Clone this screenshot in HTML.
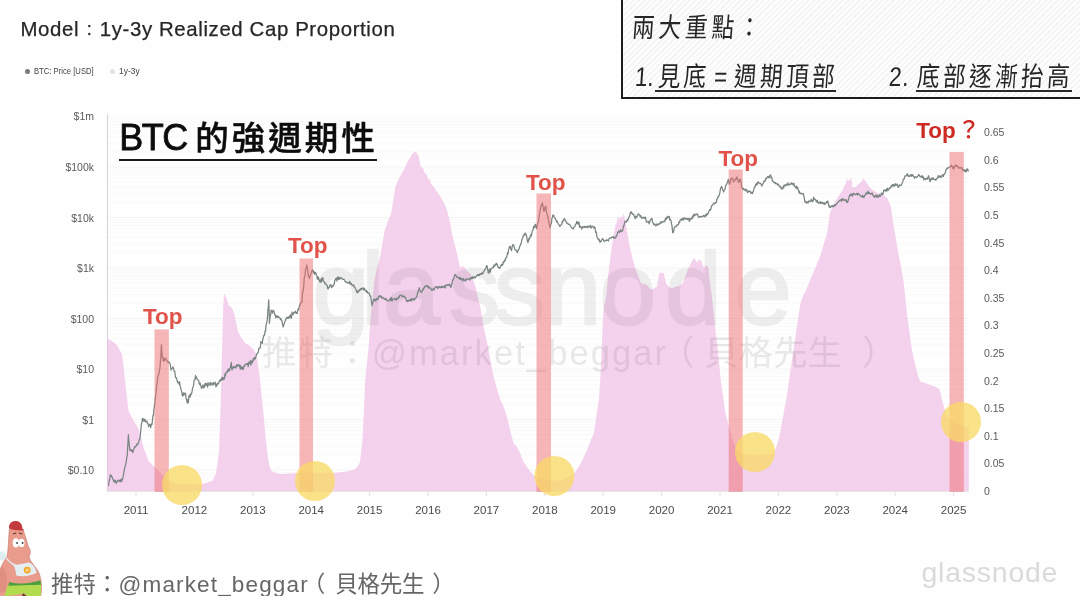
<!DOCTYPE html>
<html lang="zh-Hant"><head><meta charset="utf-8"><title>BTC 的強週期性</title>
<style>
html,body{margin:0;padding:0;}
body{width:1080px;height:596px;overflow:hidden;background:#fefefe;position:relative;font-family:"Liberation Sans","Noto Sans CJK TC",sans-serif;}
.abs{position:absolute;white-space:nowrap;}
.hdr{left:20.5px;top:15.5px;font-size:20.4px;color:#262626;line-height:26px;letter-spacing:0.62px;-webkit-text-stroke:0.25px #262626;}
.lg{top:65px;font-size:9.6px;color:#444;line-height:12px;transform:scaleX(0.8);transform-origin:left center;}
.dot{position:absolute;width:5px;height:5px;border-radius:50%;}
.yl{position:absolute;left:40px;width:54px;text-align:right;font-size:10.5px;color:#5a5a5a;line-height:14px;}
.yr{position:absolute;left:984px;font-size:10.5px;color:#5a5a5a;line-height:14px;}
.xl{position:absolute;top:503px;width:40px;text-align:center;font-size:11.5px;color:#4a4a4a;line-height:14px;}
.title{left:119.2px;top:116.4px;font-size:35px;line-height:44px;color:#0c0c0c;font-weight:500;-webkit-text-stroke:0.5px #0c0c0c;letter-spacing:0.4px;}
.uline{position:absolute;left:118.5px;top:158.7px;width:258.5px;height:2.2px;background:#1a1a1a;}
.top{font-weight:700;font-size:22.5px;line-height:24px;color:#e0524a;}
.note{position:absolute;left:621px;top:-4px;width:470px;height:102.5px;border:2.5px solid #1c1c1c;box-sizing:border-box;
 background:repeating-linear-gradient(135deg,#f5f5f5 0,#f5f5f5 2px,#fefefe 2px,#fefefe 4px);}
.hand{font-family:"Liberation Sans","Noto Sans CJK TC",sans-serif;font-weight:400;color:#262626;font-size:22.5px;line-height:28px;letter-spacing:4px;transform:skewX(-4deg) scaleY(1.2);transform-origin:left center;}
.ul2{position:absolute;top:89.5px;height:2px;background:#2a2a2a;}
.foot{left:51px;top:570.3px;font-size:22.5px;line-height:30px;color:#666;}
.gn{left:921.5px;top:555px;font-size:28.5px;line-height:34px;color:#dadada;letter-spacing:0.75px;}
</style></head><body>
<svg width="1080" height="596" viewBox="0 0 1080 596" style="position:absolute;left:0;top:0">
<line x1="108" x2="968" y1="490.1" y2="490.1" stroke="#000" stroke-opacity="0.022" stroke-width="1"/><line x1="108" x2="968" y1="485.2" y2="485.2" stroke="#000" stroke-opacity="0.022" stroke-width="1"/><line x1="108" x2="968" y1="481.2" y2="481.2" stroke="#000" stroke-opacity="0.022" stroke-width="1"/><line x1="108" x2="968" y1="477.8" y2="477.8" stroke="#000" stroke-opacity="0.022" stroke-width="1"/><line x1="108" x2="968" y1="474.9" y2="474.9" stroke="#000" stroke-opacity="0.022" stroke-width="1"/><line x1="108" x2="968" y1="472.3" y2="472.3" stroke="#000" stroke-opacity="0.022" stroke-width="1"/><line x1="108" x2="968" y1="470.0" y2="470.0" stroke="#000" stroke-opacity="0.042" stroke-width="1"/><line x1="108" x2="968" y1="454.8" y2="454.8" stroke="#000" stroke-opacity="0.022" stroke-width="1"/><line x1="108" x2="968" y1="445.9" y2="445.9" stroke="#000" stroke-opacity="0.022" stroke-width="1"/><line x1="108" x2="968" y1="439.6" y2="439.6" stroke="#000" stroke-opacity="0.022" stroke-width="1"/><line x1="108" x2="968" y1="434.7" y2="434.7" stroke="#000" stroke-opacity="0.022" stroke-width="1"/><line x1="108" x2="968" y1="430.7" y2="430.7" stroke="#000" stroke-opacity="0.022" stroke-width="1"/><line x1="108" x2="968" y1="427.3" y2="427.3" stroke="#000" stroke-opacity="0.022" stroke-width="1"/><line x1="108" x2="968" y1="424.4" y2="424.4" stroke="#000" stroke-opacity="0.022" stroke-width="1"/><line x1="108" x2="968" y1="421.8" y2="421.8" stroke="#000" stroke-opacity="0.022" stroke-width="1"/><line x1="108" x2="968" y1="419.5" y2="419.5" stroke="#000" stroke-opacity="0.042" stroke-width="1"/><line x1="108" x2="968" y1="404.3" y2="404.3" stroke="#000" stroke-opacity="0.022" stroke-width="1"/><line x1="108" x2="968" y1="395.4" y2="395.4" stroke="#000" stroke-opacity="0.022" stroke-width="1"/><line x1="108" x2="968" y1="389.1" y2="389.1" stroke="#000" stroke-opacity="0.022" stroke-width="1"/><line x1="108" x2="968" y1="384.2" y2="384.2" stroke="#000" stroke-opacity="0.022" stroke-width="1"/><line x1="108" x2="968" y1="380.2" y2="380.2" stroke="#000" stroke-opacity="0.022" stroke-width="1"/><line x1="108" x2="968" y1="376.8" y2="376.8" stroke="#000" stroke-opacity="0.022" stroke-width="1"/><line x1="108" x2="968" y1="373.9" y2="373.9" stroke="#000" stroke-opacity="0.022" stroke-width="1"/><line x1="108" x2="968" y1="371.3" y2="371.3" stroke="#000" stroke-opacity="0.022" stroke-width="1"/><line x1="108" x2="968" y1="369.0" y2="369.0" stroke="#000" stroke-opacity="0.042" stroke-width="1"/><line x1="108" x2="968" y1="353.8" y2="353.8" stroke="#000" stroke-opacity="0.022" stroke-width="1"/><line x1="108" x2="968" y1="344.9" y2="344.9" stroke="#000" stroke-opacity="0.022" stroke-width="1"/><line x1="108" x2="968" y1="338.6" y2="338.6" stroke="#000" stroke-opacity="0.022" stroke-width="1"/><line x1="108" x2="968" y1="333.7" y2="333.7" stroke="#000" stroke-opacity="0.022" stroke-width="1"/><line x1="108" x2="968" y1="329.7" y2="329.7" stroke="#000" stroke-opacity="0.022" stroke-width="1"/><line x1="108" x2="968" y1="326.3" y2="326.3" stroke="#000" stroke-opacity="0.022" stroke-width="1"/><line x1="108" x2="968" y1="323.4" y2="323.4" stroke="#000" stroke-opacity="0.022" stroke-width="1"/><line x1="108" x2="968" y1="320.8" y2="320.8" stroke="#000" stroke-opacity="0.022" stroke-width="1"/><line x1="108" x2="968" y1="318.5" y2="318.5" stroke="#000" stroke-opacity="0.042" stroke-width="1"/><line x1="108" x2="968" y1="303.3" y2="303.3" stroke="#000" stroke-opacity="0.022" stroke-width="1"/><line x1="108" x2="968" y1="294.4" y2="294.4" stroke="#000" stroke-opacity="0.022" stroke-width="1"/><line x1="108" x2="968" y1="288.1" y2="288.1" stroke="#000" stroke-opacity="0.022" stroke-width="1"/><line x1="108" x2="968" y1="283.2" y2="283.2" stroke="#000" stroke-opacity="0.022" stroke-width="1"/><line x1="108" x2="968" y1="279.2" y2="279.2" stroke="#000" stroke-opacity="0.022" stroke-width="1"/><line x1="108" x2="968" y1="275.8" y2="275.8" stroke="#000" stroke-opacity="0.022" stroke-width="1"/><line x1="108" x2="968" y1="272.9" y2="272.9" stroke="#000" stroke-opacity="0.022" stroke-width="1"/><line x1="108" x2="968" y1="270.3" y2="270.3" stroke="#000" stroke-opacity="0.022" stroke-width="1"/><line x1="108" x2="968" y1="268.0" y2="268.0" stroke="#000" stroke-opacity="0.042" stroke-width="1"/><line x1="108" x2="968" y1="252.8" y2="252.8" stroke="#000" stroke-opacity="0.022" stroke-width="1"/><line x1="108" x2="968" y1="243.9" y2="243.9" stroke="#000" stroke-opacity="0.022" stroke-width="1"/><line x1="108" x2="968" y1="237.6" y2="237.6" stroke="#000" stroke-opacity="0.022" stroke-width="1"/><line x1="108" x2="968" y1="232.7" y2="232.7" stroke="#000" stroke-opacity="0.022" stroke-width="1"/><line x1="108" x2="968" y1="228.7" y2="228.7" stroke="#000" stroke-opacity="0.022" stroke-width="1"/><line x1="108" x2="968" y1="225.3" y2="225.3" stroke="#000" stroke-opacity="0.022" stroke-width="1"/><line x1="108" x2="968" y1="222.4" y2="222.4" stroke="#000" stroke-opacity="0.022" stroke-width="1"/><line x1="108" x2="968" y1="219.8" y2="219.8" stroke="#000" stroke-opacity="0.022" stroke-width="1"/><line x1="108" x2="968" y1="217.5" y2="217.5" stroke="#000" stroke-opacity="0.042" stroke-width="1"/><line x1="108" x2="968" y1="202.3" y2="202.3" stroke="#000" stroke-opacity="0.022" stroke-width="1"/><line x1="108" x2="968" y1="193.4" y2="193.4" stroke="#000" stroke-opacity="0.022" stroke-width="1"/><line x1="108" x2="968" y1="187.1" y2="187.1" stroke="#000" stroke-opacity="0.022" stroke-width="1"/><line x1="108" x2="968" y1="182.2" y2="182.2" stroke="#000" stroke-opacity="0.022" stroke-width="1"/><line x1="108" x2="968" y1="178.2" y2="178.2" stroke="#000" stroke-opacity="0.022" stroke-width="1"/><line x1="108" x2="968" y1="174.8" y2="174.8" stroke="#000" stroke-opacity="0.022" stroke-width="1"/><line x1="108" x2="968" y1="171.9" y2="171.9" stroke="#000" stroke-opacity="0.022" stroke-width="1"/><line x1="108" x2="968" y1="169.3" y2="169.3" stroke="#000" stroke-opacity="0.022" stroke-width="1"/><line x1="108" x2="968" y1="167.0" y2="167.0" stroke="#000" stroke-opacity="0.042" stroke-width="1"/><line x1="108" x2="968" y1="151.8" y2="151.8" stroke="#000" stroke-opacity="0.022" stroke-width="1"/><line x1="108" x2="968" y1="142.9" y2="142.9" stroke="#000" stroke-opacity="0.022" stroke-width="1"/><line x1="108" x2="968" y1="136.6" y2="136.6" stroke="#000" stroke-opacity="0.022" stroke-width="1"/><line x1="108" x2="968" y1="131.7" y2="131.7" stroke="#000" stroke-opacity="0.022" stroke-width="1"/><line x1="108" x2="968" y1="127.7" y2="127.7" stroke="#000" stroke-opacity="0.022" stroke-width="1"/><line x1="108" x2="968" y1="124.3" y2="124.3" stroke="#000" stroke-opacity="0.022" stroke-width="1"/><line x1="108" x2="968" y1="121.4" y2="121.4" stroke="#000" stroke-opacity="0.022" stroke-width="1"/><line x1="108" x2="968" y1="118.8" y2="118.8" stroke="#000" stroke-opacity="0.022" stroke-width="1"/>
<line x1="107.5" x2="107.5" y1="114" y2="491" stroke="#d4d4d4" stroke-width="1"/>
<line x1="107" x2="969" y1="491.5" y2="491.5" stroke="#e6e6e6" stroke-width="1"/>
<line x1="136.0" x2="136.0" y1="492" y2="496" stroke="#e2e2e2" stroke-width="1"/>
<line x1="194.4" x2="194.4" y1="492" y2="496" stroke="#e2e2e2" stroke-width="1"/>
<line x1="252.8" x2="252.8" y1="492" y2="496" stroke="#e2e2e2" stroke-width="1"/>
<line x1="311.2" x2="311.2" y1="492" y2="496" stroke="#e2e2e2" stroke-width="1"/>
<line x1="369.6" x2="369.6" y1="492" y2="496" stroke="#e2e2e2" stroke-width="1"/>
<line x1="428.0" x2="428.0" y1="492" y2="496" stroke="#e2e2e2" stroke-width="1"/>
<line x1="486.4" x2="486.4" y1="492" y2="496" stroke="#e2e2e2" stroke-width="1"/>
<line x1="544.8" x2="544.8" y1="492" y2="496" stroke="#e2e2e2" stroke-width="1"/>
<line x1="603.2" x2="603.2" y1="492" y2="496" stroke="#e2e2e2" stroke-width="1"/>
<line x1="661.6" x2="661.6" y1="492" y2="496" stroke="#e2e2e2" stroke-width="1"/>
<line x1="720.0" x2="720.0" y1="492" y2="496" stroke="#e2e2e2" stroke-width="1"/>
<line x1="778.4" x2="778.4" y1="492" y2="496" stroke="#e2e2e2" stroke-width="1"/>
<line x1="836.8" x2="836.8" y1="492" y2="496" stroke="#e2e2e2" stroke-width="1"/>
<line x1="895.2" x2="895.2" y1="492" y2="496" stroke="#e2e2e2" stroke-width="1"/>
<line x1="953.6" x2="953.6" y1="492" y2="496" stroke="#e2e2e2" stroke-width="1"/>
<path d="M107,491 L107.0,338.6 L112.0,341.0 L116.8,345.0 L121.8,353.7 L123.5,365.0 L125.0,380.5 L127.0,398.0 L128.5,410.7 L133.5,420.8 L138.6,429.0 L143.6,447.6 L148.6,461.0 L153.7,466.0 L162.0,474.5 L167.0,481.0 L180.0,484.0 L200.6,484.5 L212.4,481.0 L215.7,474.5 L217.5,463.0 L219.0,451.0 L220.0,425.0 L220.8,400.6 L221.7,365.0 L222.5,333.5 L223.3,305.0 L224.0,293.5 L226.0,297.0 L229.0,306.0 L232.0,308.0 L234.5,314.7 L236.0,322.0 L238.0,332.0 L241.0,337.0 L245.0,343.0 L250.0,346.0 L254.0,350.0 L256.0,354.0 L257.4,360.5 L260.0,380.0 L262.7,406.0 L266.0,441.5 L268.0,458.0 L269.5,466.0 L271.5,471.0 L276.0,473.0 L281.0,474.0 L290.0,473.5 L301.0,472.8 L320.0,473.0 L335.0,472.8 L347.0,471.5 L355.0,469.5 L358.0,466.0 L360.0,462.0 L362.5,440.0 L364.0,410.0 L365.2,380.0 L366.8,365.0 L368.6,347.0 L369.8,330.0 L371.0,313.6 L372.7,297.0 L374.5,280.0 L377.0,268.0 L380.3,256.0 L382.5,243.0 L384.7,230.6 L388.0,221.0 L391.0,214.5 L393.3,200.0 L395.4,186.8 L399.0,178.0 L403.8,170.0 L407.0,163.0 L410.4,156.8 L413.0,153.0 L415.5,151.5 L417.0,153.5 L418.8,156.8 L420.5,166.8 L423.0,168.0 L424.0,172.0 L427.0,175.0 L428.0,179.0 L430.0,180.0 L431.0,184.0 L433.8,186.8 L437.0,192.0 L440.5,196.8 L444.0,203.0 L447.0,210.0 L449.5,220.0 L452.0,233.6 L454.5,244.0 L457.0,253.6 L459.0,263.0 L460.5,268.7 L462.0,266.0 L464.0,267.0 L467.0,271.0 L470.5,273.7 L473.0,280.0 L475.6,287.0 L478.0,298.0 L480.6,309.0 L483.6,326.7 L486.0,338.0 L488.6,350.0 L491.0,364.0 L493.6,376.8 L497.0,389.0 L500.3,400.0 L503.0,405.0 L507.0,417.0 L510.0,430.0 L513.6,443.6 L517.0,447.0 L520.3,453.6 L523.0,461.0 L527.0,467.0 L530.0,471.0 L533.7,475.4 L540.4,478.7 L550.0,480.4 L560.4,480.4 L567.0,478.0 L573.8,473.7 L578.7,467.0 L583.0,458.7 L587.0,450.3 L590.5,441.0 L593.8,433.6 L596.3,416.8 L598.9,400.0 L600.3,380.0 L601.5,355.0 L602.5,330.0 L603.5,309.0 L606.0,297.0 L608.8,270.5 L611.5,249.0 L613.5,236.0 L615.5,225.0 L617.0,222.0 L618.0,216.8 L619.5,219.0 L620.9,216.5 L622.0,218.0 L623.5,213.5 L625.0,219.5 L627.6,235.6 L630.0,247.7 L632.0,256.0 L634.3,265.0 L636.3,271.0 L638.3,276.0 L640.0,281.0 L642.3,284.0 L645.0,284.0 L647.7,285.5 L649.5,288.0 L651.7,289.5 L654.5,288.5 L657.0,286.6 L658.2,279.0 L659.3,273.5 L661.5,272.5 L663.8,273.5 L665.0,279.0 L666.5,284.0 L668.5,286.5 L670.5,288.0 L673.0,288.0 L676.0,286.6 L679.0,286.0 L682.6,284.0 L684.5,279.0 L686.6,273.0 L688.5,268.0 L690.7,263.8 L692.5,260.0 L694.7,258.0 L696.0,261.0 L697.4,262.5 L699.0,259.5 L701.4,261.0 L702.5,265.0 L704.0,267.9 L706.0,265.5 L708.0,266.5 L708.8,272.0 L709.5,278.6 L710.8,288.0 L712.0,297.4 L713.5,311.0 L714.8,324.0 L716.5,340.0 L717.8,350.0 L719.3,365.0 L720.8,380.7 L723.0,396.0 L725.0,411.0 L727.5,421.0 L730.0,430.0 L733.0,441.0 L736.0,449.0 L743.0,453.6 L753.4,455.0 L765.0,454.5 L773.4,453.6 L776.7,446.0 L779.0,438.0 L781.0,428.0 L783.0,417.0 L784.6,408.0 L787.0,395.0 L789.0,381.0 L791.0,367.0 L793.4,350.5 L796.0,333.4 L798.2,318.0 L800.5,303.0 L803.0,296.0 L807.0,288.0 L810.5,279.0 L814.0,271.0 L817.0,264.0 L820.6,255.0 L822.5,248.0 L824.7,241.0 L827.0,233.6 L830.0,212.7 L832.0,208.0 L835.0,202.0 L838.5,196.0 L842.0,191.0 L844.5,186.0 L847.5,179.0 L849.0,181.0 L851.0,177.5 L852.8,188.0 L855.5,187.0 L858.0,184.5 L861.0,182.5 L863.4,178.5 L865.5,181.0 L868.7,186.0 L872.0,189.5 L875.7,192.0 L880.0,194.5 L883.4,194.5 L887.4,198.5 L890.6,205.5 L892.8,220.0 L895.4,236.0 L898.0,252.0 L900.8,265.5 L903.5,281.5 L905.6,300.0 L907.0,315.0 L908.7,326.7 L910.3,339.0 L912.0,350.0 L914.5,362.0 L917.0,371.8 L918.7,378.0 L920.4,381.8 L925.0,383.0 L930.4,385.0 L935.0,386.5 L938.8,388.5 L940.5,393.0 L942.0,400.0 L944.5,409.0 L947.0,417.0 L952.0,421.0 L958.0,424.0 L964.0,426.0 L968.8,427.0 L968.8,491 Z" fill="#f0bfe4" fill-opacity="0.72"/>
<g opacity="0.088"><text x="312.5 361.5 383.0 449.0 494.0 544.5 599.5 665.0 735.0" y="323.5" font-family="'Liberation Sans',sans-serif" font-size="102" fill="#555" stroke="#555" stroke-width="2.5">glassnode</text></g>
<g opacity="0.125" font-family="'Liberation Sans','Noto Sans CJK TC',sans-serif" font-size="34.5" fill="#555"><text x="262" y="365" textLength="404" lengthAdjust="spacing">推特：@market_beggar</text><text x="660" y="365">（</text><text x="704" y="365" textLength="138" lengthAdjust="spacing">貝格先生</text><text x="862" y="365">）</text></g>
<path d="M108.6,485.2 L108.6,485.3 L109.0,481.8 L109.5,480.0 L110.0,477.3 L110.3,474.9 L110.4,475.6 L110.9,476.2 L111.4,475.3 L111.8,477.1 L112.3,477.1 L112.8,479.0 L113.2,479.7 L113.7,480.9 L113.8,481.2 L114.2,482.4 L114.6,480.1 L115.1,480.3 L115.6,480.3 L116.0,483.1 L116.5,483.1 L117.0,481.9 L117.4,481.3 L117.9,480.3 L118.4,480.5 L118.5,480.5 L118.8,480.1 L119.3,481.5 L119.8,480.3 L120.2,480.3 L120.7,481.8 L121.2,478.8 L121.6,480.6 L122.0,481.2 L122.1,479.9 L122.6,479.2 L123.0,477.1 L123.5,474.4 L124.0,471.8 L124.3,470.0 L124.4,469.1 L124.9,466.9 L125.4,465.5 L125.8,463.9 L126.3,461.1 L126.8,456.8 L127.2,455.9 L127.2,456.2 L127.7,447.1 L128.2,438.4 L128.4,434.7 L128.6,439.2 L129.1,442.7 L129.6,448.2 L129.6,447.7 L130.0,450.7 L130.5,449.6 L131.0,449.8 L131.4,451.2 L131.9,449.9 L132.4,451.1 L132.8,452.6 L133.1,451.7 L133.3,450.6 L133.8,449.5 L134.2,448.2 L134.7,446.6 L135.2,447.1 L135.6,446.5 L136.0,445.9 L136.1,446.4 L136.6,444.2 L137.1,444.8 L137.5,443.8 L138.0,444.0 L138.5,442.8 L138.9,441.2 L139.4,439.1 L139.5,439.6 L139.9,439.0 L140.3,435.6 L140.8,430.0 L141.3,425.0 L141.7,422.8 L142.2,421.6 L142.4,418.4 L142.7,420.5 L143.1,418.7 L143.6,420.5 L144.1,421.5 L144.5,419.2 L145.0,419.5 L145.5,421.2 L145.9,421.8 L145.9,421.7 L146.4,422.0 L146.9,421.0 L147.3,422.9 L147.8,423.7 L148.3,424.3 L148.7,426.6 L148.8,425.8 L149.2,424.4 L149.7,424.2 L150.1,424.5 L150.6,427.6 L151.1,425.6 L151.5,423.8 L151.8,424.4 L152.0,424.4 L152.5,420.1 L152.9,415.5 L153.4,415.5 L153.9,409.3 L154.1,409.2 L154.3,406.6 L154.8,403.3 L155.3,398.6 L155.7,394.5 L155.9,394.0 L156.2,390.7 L156.7,385.2 L157.1,383.5 L157.6,378.4 L157.6,378.6 L158.1,375.3 L158.5,374.8 L158.8,373.9 L159.0,374.0 L159.5,369.7 L159.9,369.0 L159.9,368.4 L160.4,361.9 L160.9,355.4 L161.3,345.9 L161.4,344.9 L161.8,350.9 L162.3,357.4 L162.3,357.5 L162.7,356.6 L163.2,360.8 L163.4,360.1 L163.7,358.7 L164.1,361.2 L164.6,360.2 L165.1,358.3 L165.2,358.7 L165.6,358.0 L166.0,358.7 L166.5,360.0 L167.0,360.9 L167.4,361.7 L167.5,361.9 L167.9,361.5 L168.4,362.6 L168.8,362.3 L169.3,362.2 L169.8,363.2 L169.9,363.2 L170.2,364.3 L170.7,367.3 L171.0,370.1 L171.2,368.5 L171.6,368.6 L172.1,368.8 L172.6,367.7 L172.8,366.9 L173.0,367.6 L173.5,367.8 L174.0,370.8 L174.4,371.3 L174.9,371.6 L175.1,373.9 L175.4,376.9 L175.8,377.8 L176.3,377.7 L176.8,379.1 L177.2,381.1 L177.5,382.1 L177.7,382.7 L178.2,381.9 L178.6,382.8 L179.1,384.3 L179.6,381.9 L179.8,384.2 L180.0,384.8 L180.5,387.7 L181.0,388.9 L181.4,390.9 L181.9,392.5 L182.1,393.3 L182.4,396.2 L182.8,394.5 L183.3,392.9 L183.8,395.4 L183.9,394.7 L184.2,394.6 L184.7,393.1 L185.2,393.1 L185.6,394.0 L185.6,393.4 L186.1,398.7 L186.6,399.4 L187.0,401.8 L187.4,403.2 L187.5,402.3 L188.0,399.4 L188.4,402.5 L188.9,396.0 L189.1,396.1 L189.4,397.2 L189.8,394.6 L190.3,397.0 L190.8,394.4 L191.2,393.2 L191.5,394.0 L191.7,393.1 L192.2,390.7 L192.6,388.0 L193.1,386.9 L193.2,386.5 L193.6,385.2 L194.0,381.1 L194.5,379.8 L195.0,379.6 L195.5,375.5 L195.6,376.8 L195.9,378.5 L196.4,376.8 L196.9,379.0 L197.3,379.2 L197.8,379.6 L197.9,380.2 L198.3,380.4 L198.7,380.5 L199.2,383.9 L199.7,384.5 L200.1,382.8 L200.2,383.3 L200.6,385.4 L201.1,386.6 L201.5,388.3 L202.0,387.5 L202.0,387.0 L202.5,386.5 L202.9,384.9 L203.4,387.8 L203.9,386.2 L204.3,387.4 L204.8,384.5 L205.3,383.3 L205.7,385.6 L206.1,384.6 L206.2,383.9 L206.7,383.7 L207.1,384.8 L207.6,387.1 L208.1,382.6 L208.5,384.6 L209.0,385.2 L209.5,383.9 L209.9,383.8 L210.4,382.4 L210.9,385.5 L211.3,383.3 L211.8,383.5 L211.9,384.2 L212.3,383.2 L212.7,384.3 L213.2,385.1 L213.7,382.7 L214.1,383.9 L214.6,383.8 L215.1,382.1 L215.5,384.3 L216.0,386.9 L216.5,384.4 L216.9,385.7 L217.4,383.2 L217.8,383.8 L217.9,383.5 L218.3,383.9 L218.8,382.7 L219.3,381.1 L219.7,381.6 L220.2,379.5 L220.7,380.9 L221.1,379.7 L221.3,380.2 L221.6,378.3 L222.1,377.4 L222.5,379.9 L223.0,377.5 L223.5,379.4 L223.6,378.1 L224.0,378.4 L224.4,378.9 L224.9,373.9 L225.4,375.9 L225.8,373.3 L226.3,372.5 L226.5,371.8 L226.8,371.7 L227.2,372.3 L227.7,371.1 L228.2,368.9 L228.6,371.0 L229.1,370.4 L229.4,370.8 L229.6,369.5 L230.0,368.3 L230.5,367.4 L231.0,364.1 L231.2,362.4 L231.4,363.6 L231.8,369.0 L231.9,369.9 L232.4,369.3 L232.8,367.1 L233.3,367.1 L233.8,367.8 L234.2,366.5 L234.7,367.1 L235.2,367.6 L235.3,366.9 L235.6,368.1 L236.1,367.1 L236.6,364.6 L237.0,366.2 L237.5,366.2 L238.0,365.3 L238.2,364.5 L238.4,365.7 L238.9,365.1 L239.4,366.9 L239.8,365.2 L240.3,369.1 L240.8,366.0 L241.2,367.6 L241.7,369.1 L242.2,367.0 L242.3,367.5 L242.6,367.5 L243.1,369.5 L243.6,367.8 L244.0,365.9 L244.5,366.6 L245.0,364.6 L245.4,364.4 L245.9,364.1 L246.4,364.4 L246.8,363.7 L247.0,364.3 L247.3,363.7 L247.8,363.5 L248.2,366.6 L248.7,362.5 L249.2,361.8 L249.6,363.7 L250.1,363.8 L250.6,360.5 L251.0,365.1 L251.5,362.2 L252.0,361.0 L252.2,362.4 L252.4,362.7 L252.9,360.6 L253.4,358.3 L253.9,360.2 L254.3,358.6 L254.8,357.5 L255.3,358.9 L255.7,357.4 L255.7,357.4 L256.2,355.8 L256.7,353.9 L257.1,353.8 L257.6,352.8 L258.1,352.6 L258.5,350.3 L258.6,349.8 L259.0,348.3 L259.5,347.9 L259.9,348.1 L260.4,347.1 L260.9,341.5 L261.3,342.4 L261.8,342.4 L262.1,342.2 L262.3,343.5 L262.7,339.6 L263.2,338.3 L263.7,335.3 L264.1,335.7 L264.5,335.1 L264.6,334.4 L265.1,331.0 L265.5,331.5 L266.0,325.1 L266.2,324.8 L266.5,323.1 L266.9,321.9 L267.4,318.5 L267.4,318.0 L267.9,309.6 L268.3,307.3 L268.7,299.8 L268.8,302.3 L269.3,317.1 L269.4,323.4 L269.7,320.2 L270.2,316.1 L270.3,314.5 L270.7,315.0 L271.1,310.1 L271.6,310.7 L272.1,311.1 L272.1,311.6 L272.5,313.2 L273.0,310.1 L273.5,311.6 L273.9,311.1 L274.4,313.1 L274.9,315.2 L275.0,314.9 L275.3,314.9 L275.8,318.0 L276.3,316.7 L276.7,316.0 L277.2,315.6 L277.7,317.5 L278.1,317.0 L278.6,316.7 L279.1,317.4 L279.1,317.3 L279.5,317.3 L280.0,318.2 L280.5,319.5 L280.9,318.6 L281.4,320.1 L281.9,321.2 L282.0,320.8 L282.4,323.5 L282.8,325.1 L283.2,327.0 L283.3,326.7 L283.8,324.9 L284.2,323.7 L284.7,322.0 L285.2,320.9 L285.5,319.6 L285.6,320.2 L286.1,318.7 L286.6,317.4 L287.0,317.8 L287.5,318.3 L288.0,317.1 L288.4,318.4 L288.9,318.0 L289.0,316.8 L289.4,316.5 L289.8,317.2 L290.3,314.7 L290.8,316.7 L291.2,318.3 L291.7,315.8 L292.2,312.0 L292.6,314.2 L293.1,314.6 L293.6,313.2 L293.7,312.7 L294.0,312.4 L294.5,312.3 L295.0,312.8 L295.4,311.2 L295.9,312.4 L296.4,313.4 L296.8,313.0 L297.2,313.6 L297.3,312.1 L297.8,310.3 L298.2,308.7 L298.7,309.8 L299.2,307.0 L299.5,305.6 L299.6,305.0 L300.1,305.2 L300.6,302.7 L301.0,302.6 L301.5,301.8 L301.9,302.2 L302.0,301.4 L302.4,293.8 L302.9,291.5 L303.4,289.3 L303.6,287.0 L303.8,284.9 L304.3,277.4 L304.8,277.2 L305.2,272.0 L305.4,271.6 L305.7,268.7 L306.2,267.8 L306.6,266.8 L306.8,264.9 L307.1,266.9 L307.6,270.1 L308.0,272.8 L308.3,275.8 L308.5,275.4 L309.0,277.4 L309.4,278.5 L309.4,278.1 L309.9,276.3 L310.4,275.4 L310.8,274.2 L310.9,274.0 L311.3,273.2 L311.8,270.6 L312.3,271.0 L312.4,269.8 L312.7,270.7 L313.2,270.5 L313.7,272.9 L314.1,271.9 L314.6,274.4 L315.1,272.7 L315.3,272.4 L315.5,272.5 L316.0,273.3 L316.5,275.2 L316.9,276.5 L317.4,279.1 L317.9,276.6 L318.2,279.2 L318.3,278.9 L318.8,278.1 L319.3,281.0 L319.7,280.4 L320.2,282.4 L320.5,280.7 L320.7,280.1 L321.1,278.8 L321.6,281.9 L322.1,278.9 L322.5,277.6 L322.9,277.8 L323.0,279.1 L323.5,281.3 L323.9,281.5 L324.4,281.9 L324.9,283.9 L325.3,283.1 L325.8,284.1 L325.8,284.0 L326.3,284.3 L326.7,285.3 L327.2,285.4 L327.6,288.1 L327.7,287.2 L328.1,289.1 L328.6,287.4 L329.1,287.5 L329.5,286.6 L329.9,285.0 L330.0,285.1 L330.5,285.2 L330.9,284.7 L331.4,287.5 L331.9,287.2 L332.3,285.7 L332.8,286.1 L333.3,286.1 L333.4,286.0 L333.7,284.9 L334.2,284.4 L334.7,280.9 L335.1,279.9 L335.6,278.9 L335.7,278.5 L336.1,279.0 L336.5,278.1 L337.0,281.1 L337.5,277.1 L337.5,277.5 L337.9,277.2 L338.4,279.3 L338.9,277.2 L339.3,277.4 L339.8,279.4 L340.3,277.9 L340.4,277.8 L340.8,278.2 L341.2,277.8 L341.7,277.9 L342.2,278.7 L342.6,279.6 L343.1,279.2 L343.3,279.2 L343.6,279.4 L344.0,279.2 L344.5,279.8 L345.0,281.1 L345.4,282.0 L345.9,281.5 L346.4,282.2 L346.8,282.6 L347.3,282.3 L347.4,282.3 L347.8,282.8 L348.2,282.7 L348.7,282.5 L349.2,283.5 L349.6,281.4 L350.1,283.9 L350.6,282.9 L351.0,284.0 L351.5,283.6 L352.0,285.3 L352.1,284.6 L352.4,285.5 L352.9,285.4 L353.4,285.8 L353.8,284.9 L354.3,287.2 L354.8,287.0 L355.2,288.3 L355.6,289.2 L355.7,289.0 L356.2,290.3 L356.6,292.1 L356.8,292.3 L357.1,291.8 L357.6,292.7 L358.0,290.5 L358.5,292.0 L359.0,290.7 L359.4,289.5 L359.7,290.4 L359.9,290.3 L360.4,289.8 L360.8,288.5 L361.3,289.1 L361.8,289.4 L362.2,288.2 L362.6,288.1 L362.7,288.0 L363.2,288.1 L363.6,289.8 L364.1,288.1 L364.6,288.9 L364.9,290.4 L365.0,290.5 L365.5,290.6 L366.0,291.5 L366.4,290.3 L366.9,292.5 L367.4,291.6 L367.8,292.9 L368.3,293.2 L368.4,293.0 L368.8,293.0 L369.2,293.1 L369.7,295.0 L370.2,296.4 L370.7,296.2 L370.8,296.7 L371.1,299.4 L371.6,302.7 L371.9,305.6 L372.1,304.5 L372.5,302.8 L373.0,302.8 L373.5,299.5 L373.7,300.2 L373.9,300.2 L374.4,299.3 L374.9,300.4 L375.3,299.7 L375.8,301.1 L376.3,298.3 L376.6,299.3 L376.7,298.7 L377.2,299.6 L377.7,299.5 L378.1,299.1 L378.6,296.2 L379.1,297.1 L379.5,296.2 L380.0,295.8 L380.1,295.5 L380.5,295.9 L380.9,297.1 L381.4,296.6 L381.9,298.2 L382.3,297.4 L382.8,297.4 L383.3,297.7 L383.7,298.6 L384.2,298.8 L384.2,299.1 L384.7,299.0 L385.1,299.7 L385.6,298.1 L386.1,299.0 L386.5,300.0 L387.0,300.5 L387.5,300.9 L387.9,301.0 L388.3,300.7 L388.4,300.8 L388.9,300.4 L389.3,300.0 L389.8,299.8 L390.3,298.4 L390.7,300.7 L391.2,299.9 L391.7,297.4 L392.1,301.1 L392.6,299.8 L393.0,299.5 L393.1,299.4 L393.5,299.3 L394.0,298.9 L394.5,299.3 L394.9,298.7 L395.4,298.9 L395.9,298.1 L396.3,300.3 L396.8,299.3 L397.3,298.5 L397.6,298.4 L397.7,298.7 L398.2,298.6 L398.7,296.7 L399.2,297.3 L399.6,295.6 L400.1,295.1 L400.6,295.1 L400.6,295.1 L401.0,295.0 L401.5,295.6 L402.0,296.9 L402.4,295.9 L402.9,295.7 L403.4,296.7 L403.8,296.5 L404.3,296.2 L404.6,296.7 L404.8,297.3 L405.2,297.4 L405.7,297.4 L406.2,300.4 L406.6,300.9 L407.0,301.7 L407.1,301.7 L407.6,300.3 L408.0,300.9 L408.5,300.1 L409.0,301.2 L409.4,300.4 L409.9,300.1 L410.4,300.5 L410.5,299.8 L410.8,299.0 L411.3,298.9 L411.8,301.0 L412.2,298.8 L412.7,299.4 L413.2,298.9 L413.6,298.8 L414.1,300.3 L414.6,299.1 L415.0,298.4 L415.2,298.8 L415.5,298.4 L416.0,297.9 L416.4,297.1 L416.9,296.0 L417.4,293.6 L417.8,292.0 L418.1,292.3 L418.3,291.1 L418.8,289.6 L419.2,288.1 L419.2,287.5 L419.7,289.7 L420.2,290.9 L420.6,291.0 L421.0,292.3 L421.1,291.9 L421.6,292.1 L422.0,291.7 L422.5,289.7 L423.0,289.0 L423.4,289.7 L423.9,288.0 L424.4,287.5 L424.8,286.2 L425.1,286.0 L425.3,286.1 L425.8,286.2 L426.2,286.6 L426.7,285.5 L427.2,285.7 L427.4,286.5 L427.6,286.9 L428.1,286.3 L428.6,288.0 L429.1,287.6 L429.5,287.4 L430.0,287.5 L430.3,288.7 L430.5,288.9 L430.9,288.9 L431.4,288.9 L431.9,290.5 L432.3,289.4 L432.7,289.5 L432.8,289.7 L433.3,288.7 L433.7,289.6 L434.2,289.9 L434.7,287.8 L435.1,287.2 L435.6,287.0 L435.6,287.2 L436.1,286.6 L436.5,287.2 L437.0,287.6 L437.5,286.7 L437.9,288.5 L438.4,287.7 L438.9,287.2 L439.3,286.4 L439.8,287.3 L440.3,286.9 L440.7,287.8 L441.2,287.0 L441.7,286.2 L442.1,287.6 L442.6,287.3 L442.6,286.7 L443.1,287.5 L443.5,286.9 L444.0,286.5 L444.5,285.6 L444.9,287.3 L445.4,287.9 L445.9,285.4 L446.3,285.0 L446.8,285.1 L447.3,285.3 L447.3,284.6 L447.7,285.2 L448.2,285.1 L448.7,284.6 L449.1,285.1 L449.6,284.0 L450.1,286.5 L450.5,285.8 L451.0,287.3 L451.4,285.5 L451.5,284.8 L451.9,284.0 L452.4,281.4 L452.9,279.3 L453.1,279.9 L453.3,279.2 L453.8,277.9 L454.3,276.6 L454.7,275.1 L454.9,274.3 L455.2,275.2 L455.7,274.9 L456.1,276.0 L456.6,276.6 L457.1,277.4 L457.2,277.4 L457.6,277.1 L458.0,277.4 L458.5,278.1 L459.0,277.5 L459.4,278.4 L459.9,279.4 L460.4,277.4 L460.8,278.4 L461.3,279.6 L461.8,278.8 L461.9,279.2 L462.2,279.1 L462.7,280.9 L463.2,278.4 L463.6,279.8 L464.1,279.9 L464.2,280.3 L464.6,280.1 L465.0,280.2 L465.5,281.2 L466.0,278.9 L466.4,279.6 L466.9,279.7 L467.4,279.0 L467.8,279.1 L468.3,278.6 L468.8,279.0 L468.9,278.8 L469.2,278.8 L469.7,280.1 L470.2,279.0 L470.6,277.9 L471.1,277.3 L471.6,278.7 L472.0,278.4 L472.5,276.8 L473.0,278.4 L473.4,277.4 L473.9,276.8 L474.4,277.8 L474.7,277.8 L474.8,277.2 L475.3,277.8 L475.8,276.7 L476.2,276.5 L476.7,275.9 L477.2,274.8 L477.6,275.2 L477.6,274.6 L478.1,275.4 L478.6,275.4 L479.0,274.3 L479.5,275.4 L480.0,273.9 L480.4,273.7 L480.9,274.3 L481.4,273.6 L481.7,273.7 L481.8,274.1 L482.3,272.5 L482.8,273.8 L483.2,272.4 L483.7,271.7 L484.2,271.0 L484.6,269.4 L485.1,269.5 L485.6,269.1 L485.8,268.7 L486.0,267.7 L486.5,265.7 L487.0,265.9 L487.0,265.9 L487.5,268.4 L487.9,270.5 L488.2,272.9 L488.4,272.5 L488.9,273.0 L489.3,269.4 L489.8,269.0 L490.3,272.1 L490.7,269.9 L491.2,268.9 L491.7,268.0 L492.1,267.9 L492.2,268.0 L492.6,267.7 L493.1,267.9 L493.5,266.4 L494.0,265.0 L494.5,266.3 L494.9,265.7 L495.4,264.2 L495.9,264.8 L496.3,263.1 L496.3,263.2 L496.8,264.3 L497.3,264.4 L497.7,266.3 L498.2,267.3 L498.7,267.7 L499.1,268.2 L499.2,268.4 L499.6,268.4 L500.1,267.4 L500.5,266.2 L501.0,265.2 L501.5,264.2 L501.9,265.7 L502.4,264.7 L502.8,264.0 L502.9,264.7 L503.3,261.6 L503.8,262.7 L504.3,261.2 L504.7,259.8 L505.2,260.6 L505.7,258.1 L506.1,257.7 L506.6,257.6 L506.8,256.4 L507.1,255.4 L507.5,252.9 L508.0,253.9 L508.5,250.0 L508.9,248.9 L509.4,247.1 L509.8,246.2 L509.9,246.3 L510.3,246.6 L510.8,249.1 L511.3,249.5 L511.5,250.7 L511.7,249.8 L512.2,246.4 L512.7,244.6 L512.7,244.9 L513.1,245.5 L513.6,244.9 L514.1,246.7 L514.5,248.0 L515.0,249.7 L515.5,250.2 L516.0,250.2 L516.4,250.4 L516.9,251.7 L517.4,252.8 L517.4,252.7 L517.8,251.6 L518.3,249.3 L518.8,249.6 L519.2,248.5 L519.7,246.2 L520.2,245.7 L520.3,245.4 L520.6,244.5 L521.1,243.3 L521.6,241.5 L522.0,239.2 L522.5,238.0 L523.0,237.4 L523.2,236.0 L523.4,235.5 L523.9,235.0 L524.4,235.4 L524.8,233.3 L525.3,233.6 L525.5,233.1 L525.8,234.3 L526.2,235.3 L526.7,236.7 L527.2,240.3 L527.6,241.3 L527.9,242.5 L528.1,242.4 L528.6,238.8 L529.0,240.1 L529.5,237.6 L530.0,238.0 L530.4,235.8 L530.8,235.5 L530.9,234.3 L531.4,236.2 L531.8,233.2 L532.3,231.1 L532.8,230.4 L533.1,229.4 L533.2,229.5 L533.7,226.3 L534.2,227.1 L534.6,227.6 L535.1,224.6 L535.5,224.4 L535.6,225.8 L536.0,225.6 L536.5,228.6 L536.6,228.7 L537.0,227.0 L537.4,223.9 L537.9,222.7 L538.4,221.8 L538.8,219.2 L539.0,217.9 L539.3,214.8 L539.8,212.3 L540.2,210.8 L540.7,207.2 L540.7,207.0 L541.2,205.6 L541.6,204.3 L542.1,205.5 L542.5,202.9 L542.6,203.8 L543.0,206.1 L543.5,209.7 L543.6,210.9 L544.0,209.3 L544.4,211.0 L544.9,207.5 L545.4,206.5 L545.4,206.4 L545.9,206.4 L546.3,211.6 L546.8,213.1 L547.1,214.4 L547.3,214.9 L547.7,216.4 L548.2,219.6 L548.7,220.3 L549.1,224.1 L549.6,225.3 L550.1,227.6 L550.1,227.8 L550.5,225.5 L551.0,224.1 L551.5,222.9 L551.9,218.5 L552.4,217.1 L552.9,215.5 L553.0,214.8 L553.3,215.3 L553.8,215.4 L554.3,217.9 L554.7,218.0 L555.2,218.3 L555.7,219.2 L556.1,220.6 L556.5,221.1 L556.6,222.0 L557.1,221.0 L557.5,222.3 L558.0,223.3 L558.5,224.3 L558.9,224.5 L559.4,225.7 L559.9,226.5 L560.0,226.3 L560.3,226.0 L560.8,225.3 L561.3,224.5 L561.7,224.1 L562.2,221.7 L562.7,222.5 L563.1,220.0 L563.6,220.3 L564.1,218.9 L564.1,218.8 L564.5,218.6 L565.0,219.8 L565.5,221.2 L565.9,221.1 L566.4,221.6 L566.9,223.7 L567.3,223.3 L567.8,223.3 L568.2,223.8 L568.3,224.1 L568.7,224.4 L569.2,224.3 L569.7,224.7 L570.1,225.1 L570.6,225.9 L571.1,227.1 L571.5,227.4 L572.0,228.1 L572.5,228.5 L572.8,228.7 L572.9,228.6 L573.4,228.9 L573.9,227.4 L574.4,226.5 L574.8,226.6 L575.3,225.1 L575.8,224.0 L576.2,223.9 L576.7,221.5 L577.2,223.7 L577.5,221.9 L577.6,222.1 L578.1,224.2 L578.6,222.7 L579.0,222.1 L579.5,227.3 L580.0,225.8 L580.4,226.3 L580.9,227.6 L581.0,227.6 L581.4,227.3 L581.8,229.1 L582.3,226.6 L582.8,226.9 L583.2,227.1 L583.7,227.6 L584.2,226.4 L584.6,227.3 L585.1,226.6 L585.6,226.8 L585.7,226.6 L586.0,227.7 L586.5,226.7 L587.0,226.6 L587.4,226.1 L587.9,227.6 L588.4,226.9 L588.8,226.4 L589.3,226.8 L589.8,225.9 L590.2,225.3 L590.7,227.7 L591.2,228.0 L591.5,227.1 L591.6,226.8 L592.1,226.1 L592.6,226.4 L593.0,226.6 L593.5,227.8 L594.0,228.0 L594.4,226.8 L594.9,227.8 L595.0,227.5 L595.4,230.7 L595.8,232.5 L596.3,232.0 L596.8,236.5 L596.8,236.0 L597.2,237.7 L597.7,238.7 L598.2,238.6 L598.6,240.2 L599.1,239.2 L599.6,241.1 L600.0,242.3 L600.3,242.1 L600.5,241.1 L601.0,241.6 L601.4,240.2 L601.9,239.8 L602.4,239.2 L602.6,238.7 L602.8,238.7 L603.3,239.6 L603.8,240.9 L604.3,241.5 L604.7,240.9 L605.2,240.7 L605.7,240.3 L606.1,240.5 L606.1,240.5 L606.6,239.9 L607.1,239.9 L607.5,240.4 L608.0,240.0 L608.5,241.0 L608.9,239.0 L609.4,238.2 L609.9,238.1 L610.2,238.2 L610.3,238.2 L610.8,238.2 L611.3,237.3 L611.7,237.9 L612.2,237.2 L612.7,237.3 L613.1,237.6 L613.6,236.5 L614.1,238.1 L614.5,237.8 L615.0,238.1 L615.5,237.9 L615.9,236.8 L616.0,237.3 L616.4,235.3 L616.9,235.4 L617.3,233.8 L617.8,232.2 L618.3,231.8 L618.4,231.8 L618.7,231.1 L619.2,232.6 L619.7,232.0 L620.1,230.9 L620.6,229.9 L621.1,230.9 L621.5,231.6 L622.0,231.0 L622.5,230.6 L622.5,230.8 L622.9,229.7 L623.4,226.0 L623.9,226.2 L624.3,224.0 L624.8,222.4 L624.8,221.8 L625.3,221.3 L625.7,221.6 L626.2,222.2 L626.7,221.0 L627.1,219.8 L627.6,220.6 L627.7,220.8 L628.1,219.2 L628.5,218.6 L629.0,217.0 L629.5,216.4 L629.9,214.7 L630.4,212.7 L630.9,213.5 L631.2,211.7 L631.3,212.0 L631.8,212.5 L632.3,213.9 L632.8,214.4 L633.2,214.3 L633.7,214.2 L634.2,216.4 L634.2,216.3 L634.6,216.6 L635.1,218.6 L635.6,216.1 L635.9,217.9 L636.0,217.7 L636.5,217.0 L637.0,217.1 L637.4,215.3 L637.9,215.2 L638.2,213.9 L638.4,214.0 L638.8,214.1 L639.3,215.0 L639.8,215.3 L640.2,216.8 L640.7,215.5 L641.2,217.1 L641.2,217.2 L641.6,218.2 L642.1,217.3 L642.6,217.9 L643.0,218.1 L643.5,217.6 L644.0,217.1 L644.4,218.4 L644.9,217.5 L645.2,217.5 L645.4,217.2 L645.8,219.2 L646.3,221.7 L646.4,222.1 L646.8,222.0 L647.2,222.1 L647.7,222.0 L648.2,221.2 L648.6,221.9 L649.1,223.8 L649.6,221.7 L649.9,221.6 L650.0,221.8 L650.5,219.7 L651.0,219.5 L651.1,218.9 L651.4,219.3 L651.9,218.2 L652.4,221.7 L652.8,222.4 L653.3,223.4 L653.8,224.9 L654.2,224.6 L654.6,224.1 L654.7,224.0 L655.2,224.6 L655.6,225.9 L656.1,225.6 L656.6,223.9 L657.0,225.1 L657.5,224.8 L658.0,224.4 L658.4,224.1 L658.7,224.7 L658.9,223.7 L659.4,223.4 L659.8,223.8 L660.3,223.4 L660.8,221.7 L661.2,221.7 L661.7,222.9 L662.2,221.9 L662.7,221.8 L662.8,221.9 L663.1,221.5 L663.6,221.4 L664.1,221.8 L664.5,220.6 L665.0,221.1 L665.5,218.2 L665.9,218.4 L666.4,219.4 L666.9,216.8 L667.3,216.9 L667.8,217.8 L668.0,216.9 L668.3,216.2 L668.7,217.0 L669.2,216.6 L669.7,220.0 L670.1,219.1 L670.6,219.8 L670.9,220.6 L671.1,221.2 L671.5,223.9 L672.0,225.9 L672.5,230.9 L672.9,232.8 L673.0,232.7 L673.4,232.4 L673.9,229.9 L674.3,228.0 L674.4,227.3 L674.8,226.9 L675.3,226.5 L675.7,226.4 L676.2,226.7 L676.7,226.2 L677.1,224.7 L677.6,224.8 L678.0,225.0 L678.1,224.8 L678.5,224.2 L679.0,221.8 L679.5,222.8 L679.9,220.9 L680.4,219.8 L680.9,219.8 L680.9,219.9 L681.3,219.0 L681.8,220.3 L682.3,218.3 L682.7,218.7 L683.2,220.0 L683.7,218.2 L683.8,218.4 L684.1,218.8 L684.6,217.7 L685.1,219.1 L685.5,218.8 L686.0,218.4 L686.5,219.0 L686.9,218.6 L687.4,219.4 L687.9,218.4 L688.3,219.0 L688.8,218.9 L689.3,221.4 L689.7,218.4 L690.2,219.2 L690.7,219.9 L690.8,219.3 L691.2,218.9 L691.6,218.1 L692.1,217.1 L692.6,218.4 L693.0,215.7 L693.5,216.7 L694.0,214.0 L694.4,215.7 L694.9,214.6 L695.4,214.7 L695.5,214.4 L695.8,215.1 L696.3,214.0 L696.8,214.2 L697.2,213.9 L697.7,214.7 L698.2,216.2 L698.6,217.3 L699.1,216.7 L699.6,216.9 L700.0,217.1 L700.5,216.5 L700.7,216.9 L701.0,216.7 L701.4,216.9 L701.9,216.4 L702.4,216.6 L702.8,216.2 L703.3,215.6 L703.8,215.4 L704.2,216.7 L704.7,217.0 L705.2,215.3 L705.4,215.8 L705.6,215.5 L706.1,214.1 L706.6,215.8 L707.0,214.1 L707.5,213.3 L708.0,214.0 L708.4,212.6 L708.9,211.1 L709.4,210.7 L709.5,210.9 L709.8,209.3 L710.3,210.0 L710.8,209.6 L711.2,207.0 L711.7,205.7 L712.2,205.5 L712.6,205.4 L713.0,204.0 L713.1,203.6 L713.6,203.1 L714.0,203.2 L714.5,203.9 L715.0,203.1 L715.3,203.2 L715.4,202.7 L715.9,202.3 L716.4,202.5 L716.8,199.7 L717.3,198.6 L717.8,198.0 L718.2,196.2 L718.7,196.5 L719.2,195.1 L719.4,194.5 L719.6,193.7 L720.1,191.1 L720.6,188.2 L721.1,187.7 L721.2,187.1 L721.5,186.4 L722.0,187.5 L722.5,189.1 L722.9,190.3 L723.4,191.0 L723.5,192.0 L723.9,191.2 L724.3,190.1 L724.8,189.8 L725.3,187.4 L725.7,185.5 L726.2,185.1 L726.7,184.2 L727.0,183.6 L727.1,183.2 L727.6,181.3 L728.1,180.6 L728.2,179.3 L728.5,179.8 L729.0,183.0 L729.3,184.0 L729.5,184.2 L729.9,183.2 L730.4,182.1 L730.9,179.5 L731.3,178.3 L731.7,178.2 L731.8,178.9 L732.3,178.2 L732.7,178.9 L733.2,180.7 L733.7,181.9 L734.0,181.3 L734.1,181.4 L734.6,180.9 L735.1,179.2 L735.5,179.0 L736.0,179.6 L736.5,177.0 L736.6,176.8 L736.9,178.6 L737.4,178.0 L737.9,181.1 L738.3,181.8 L738.7,182.2 L738.8,182.4 L739.3,181.7 L739.7,179.4 L740.2,179.2 L740.4,179.3 L740.7,180.1 L741.1,182.6 L741.6,186.6 L742.1,187.9 L742.2,188.2 L742.5,188.7 L743.0,189.4 L743.5,188.3 L743.9,189.6 L744.4,189.7 L744.9,189.8 L745.1,189.4 L745.3,190.8 L745.8,189.5 L746.3,189.2 L746.7,190.6 L747.2,191.7 L747.4,191.3 L747.7,192.6 L748.1,191.5 L748.6,190.8 L749.1,191.8 L749.6,191.5 L750.0,191.2 L750.5,191.7 L751.0,193.3 L751.4,192.4 L751.9,193.0 L752.1,193.4 L752.4,193.6 L752.8,192.0 L753.3,191.7 L753.8,189.4 L754.2,187.6 L754.7,187.6 L755.0,186.0 L755.2,186.7 L755.6,184.5 L756.1,184.7 L756.6,183.3 L757.0,185.2 L757.5,182.7 L758.0,181.7 L758.4,182.0 L758.5,182.6 L758.9,183.1 L759.4,183.1 L759.8,183.8 L760.3,183.2 L760.8,183.6 L761.2,184.8 L761.7,186.0 L762.0,185.5 L762.2,185.1 L762.6,184.9 L763.1,183.3 L763.6,182.9 L764.0,181.0 L764.5,180.7 L765.0,181.3 L765.4,179.9 L765.9,178.2 L766.4,179.0 L766.7,178.2 L766.8,178.0 L767.3,176.9 L767.8,176.3 L768.2,176.6 L768.7,177.9 L769.2,177.5 L769.6,175.9 L770.1,175.6 L770.2,175.6 L770.6,174.8 L771.0,177.9 L771.5,177.1 L772.0,178.2 L772.4,181.2 L772.9,181.4 L773.4,181.4 L773.7,182.2 L773.8,182.4 L774.3,182.6 L774.8,182.3 L775.2,183.6 L775.7,182.7 L776.2,183.8 L776.6,183.6 L776.6,183.7 L777.1,183.7 L777.6,184.9 L778.0,184.7 L778.5,184.1 L779.0,185.9 L779.5,186.5 L779.9,186.2 L780.4,187.6 L780.9,186.9 L781.3,189.0 L781.8,188.5 L781.9,188.8 L782.3,188.8 L782.7,188.7 L783.2,186.1 L783.7,187.9 L784.1,185.2 L784.6,185.7 L785.1,185.0 L785.4,185.5 L785.5,185.8 L786.0,184.7 L786.5,184.2 L786.9,185.2 L787.4,185.1 L787.9,182.8 L788.3,184.6 L788.8,185.0 L789.3,185.1 L789.7,184.1 L790.2,184.1 L790.7,184.1 L791.1,182.8 L791.6,184.2 L792.1,183.7 L792.4,183.8 L792.5,183.4 L793.0,184.8 L793.5,183.7 L793.9,183.3 L794.4,186.4 L794.9,186.5 L795.3,186.8 L795.8,187.9 L796.3,186.2 L796.7,188.4 L797.2,187.0 L797.7,187.7 L797.7,187.3 L798.1,190.1 L798.6,190.2 L799.1,192.8 L799.5,191.6 L800.0,193.4 L800.0,193.6 L800.5,193.6 L800.9,193.5 L801.4,193.1 L801.9,193.9 L802.3,193.6 L802.8,194.1 L803.3,193.7 L803.5,193.8 L803.7,195.7 L804.2,197.1 L804.7,201.1 L805.1,202.0 L805.3,202.3 L805.6,201.3 L806.1,202.1 L806.5,203.1 L807.0,201.7 L807.5,202.6 L808.0,203.1 L808.4,202.2 L808.9,200.8 L809.4,201.1 L809.8,201.3 L809.9,201.2 L810.3,201.5 L810.8,201.6 L811.2,199.4 L811.7,200.1 L812.2,200.9 L812.6,201.6 L813.1,200.7 L813.6,197.2 L814.0,199.8 L814.5,198.8 L814.6,198.8 L815.0,199.0 L815.4,199.8 L815.9,200.4 L816.4,201.8 L816.8,202.0 L817.3,200.2 L817.8,202.6 L818.1,202.5 L818.2,202.3 L818.7,203.4 L819.2,202.8 L819.6,202.4 L820.1,201.7 L820.6,203.6 L821.0,202.1 L821.5,202.3 L822.0,203.3 L822.4,202.3 L822.9,203.5 L823.4,203.5 L823.8,202.8 L824.3,204.5 L824.8,202.9 L825.1,202.9 L825.2,203.2 L825.7,203.8 L826.2,202.8 L826.6,201.6 L827.1,202.5 L827.6,201.0 L828.0,201.8 L828.0,202.1 L828.5,205.1 L829.0,204.9 L829.2,207.2 L829.4,207.0 L829.9,206.4 L830.4,207.6 L830.8,206.1 L831.3,206.5 L831.8,206.0 L832.2,206.5 L832.7,205.4 L833.2,206.7 L833.6,206.6 L833.9,206.1 L834.1,206.5 L834.6,204.6 L835.0,205.5 L835.5,205.3 L836.0,204.7 L836.4,203.8 L836.9,204.0 L837.4,202.7 L837.9,202.4 L838.3,201.7 L838.6,201.2 L838.8,201.5 L839.3,200.8 L839.7,200.9 L840.2,200.1 L840.7,199.7 L841.1,199.4 L841.6,201.3 L842.1,199.5 L842.5,199.1 L842.6,198.8 L843.0,198.6 L843.5,200.3 L843.9,200.1 L844.4,200.0 L844.9,200.3 L845.3,199.4 L845.8,200.9 L846.3,200.0 L846.7,202.3 L847.2,202.5 L847.7,201.1 L847.9,201.8 L848.1,200.6 L848.6,198.8 L849.1,197.4 L849.5,195.5 L849.6,195.3 L850.0,195.8 L850.5,194.3 L850.9,195.3 L851.4,193.9 L851.9,194.5 L852.3,196.1 L852.8,195.4 L853.3,193.2 L853.7,194.1 L854.2,193.9 L854.3,193.8 L854.7,193.8 L855.1,194.3 L855.6,194.7 L856.1,194.3 L856.5,194.4 L857.0,193.4 L857.5,194.8 L857.9,193.4 L858.4,193.6 L858.9,193.8 L859.3,194.7 L859.8,195.5 L860.2,195.7 L860.3,195.7 L860.7,196.0 L861.2,196.7 L861.7,196.3 L862.1,197.0 L862.6,195.2 L863.1,196.4 L863.5,197.1 L863.7,197.0 L864.0,197.7 L864.5,195.6 L864.9,195.2 L865.4,195.0 L865.9,193.7 L866.0,193.0 L866.4,194.1 L866.8,192.8 L867.3,193.3 L867.8,191.1 L868.2,193.4 L868.7,193.6 L869.2,192.3 L869.6,193.5 L870.1,193.5 L870.6,194.0 L871.0,194.2 L871.5,193.2 L871.8,193.9 L872.0,193.6 L872.4,193.1 L872.9,195.4 L873.4,195.6 L873.8,196.8 L874.2,196.5 L874.3,196.2 L874.8,197.2 L875.2,196.0 L875.7,195.4 L876.2,195.1 L876.6,197.1 L877.1,195.3 L877.6,196.8 L878.0,196.8 L878.5,197.2 L879.0,195.1 L879.4,194.7 L879.9,196.3 L880.4,196.2 L880.6,195.9 L880.8,195.7 L881.3,193.1 L881.8,193.4 L882.2,194.1 L882.7,194.6 L883.2,193.0 L883.6,190.7 L884.1,189.9 L884.6,190.6 L884.7,190.3 L885.0,190.5 L885.5,190.4 L886.0,191.5 L886.4,188.9 L886.9,190.4 L887.4,188.4 L887.8,190.6 L888.3,190.0 L888.8,188.6 L889.2,188.8 L889.4,188.5 L889.7,187.7 L890.2,187.7 L890.6,188.2 L891.1,186.2 L891.6,185.5 L892.0,186.7 L892.3,185.5 L892.5,184.7 L893.0,184.9 L893.4,184.5 L893.9,186.6 L894.4,185.5 L894.8,185.0 L895.3,183.6 L895.8,185.7 L896.3,184.9 L896.7,185.0 L897.0,184.0 L897.2,184.6 L897.7,185.0 L898.1,187.5 L898.6,187.2 L898.7,187.1 L899.1,186.4 L899.5,184.8 L900.0,185.1 L900.5,185.4 L900.9,185.6 L901.4,184.8 L901.9,183.9 L902.2,183.1 L902.3,182.8 L902.8,181.7 L903.3,179.1 L903.7,179.2 L904.2,179.1 L904.5,177.5 L904.7,176.7 L905.1,175.8 L905.6,175.9 L906.1,175.9 L906.5,175.9 L906.9,174.1 L907.0,174.5 L907.5,173.8 L907.9,175.6 L908.4,176.4 L908.9,175.5 L909.3,175.9 L909.8,176.4 L909.8,176.3 L910.3,175.7 L910.7,174.7 L911.2,176.4 L911.7,174.6 L912.1,175.9 L912.6,174.6 L912.7,174.8 L913.1,175.4 L913.5,176.2 L914.0,176.5 L914.5,178.2 L914.5,178.2 L914.9,177.2 L915.4,176.8 L915.9,177.1 L916.3,177.4 L916.8,177.3 L917.3,176.8 L917.7,176.2 L918.2,175.7 L918.6,175.5 L918.7,174.5 L919.1,175.3 L919.6,175.2 L920.1,176.7 L920.5,176.8 L921.0,176.6 L921.5,176.3 L921.9,177.6 L922.4,175.6 L922.9,177.3 L923.2,177.1 L923.3,176.8 L923.8,179.8 L924.3,178.3 L924.8,178.6 L925.2,179.2 L925.6,179.7 L925.7,179.3 L926.2,178.7 L926.6,178.2 L927.1,179.3 L927.6,177.7 L928.0,178.1 L928.5,175.8 L928.5,175.6 L929.0,177.3 L929.4,179.5 L929.9,181.4 L929.9,181.3 L930.4,181.3 L930.8,178.8 L931.3,178.4 L931.8,179.4 L932.2,177.8 L932.7,179.4 L933.2,177.8 L933.2,178.3 L933.6,178.7 L934.1,179.5 L934.6,179.7 L935.0,179.5 L935.5,180.1 L935.5,179.3 L936.0,180.1 L936.4,179.1 L936.9,178.4 L937.4,178.2 L937.8,176.9 L938.3,175.7 L938.8,177.3 L939.0,176.4 L939.2,176.3 L939.7,176.5 L940.2,175.8 L940.6,177.3 L941.1,177.4 L941.6,177.2 L941.9,175.6 L942.0,175.3 L942.5,175.0 L943.0,174.7 L943.4,176.5 L943.9,174.4 L944.4,174.2 L944.8,173.3 L944.8,173.7 L945.3,172.9 L945.8,170.3 L946.2,169.3 L946.6,168.8 L946.7,168.8 L947.2,168.0 L947.6,168.7 L948.1,167.9 L948.6,167.6 L948.9,167.4 L949.0,167.1 L949.5,167.1 L950.0,166.8 L950.4,166.4 L950.9,166.4 L951.3,165.7 L951.4,164.9 L951.8,166.2 L952.3,167.0 L952.8,166.6 L953.0,168.5 L953.2,167.3 L953.7,169.1 L954.2,166.7 L954.7,166.5 L954.8,166.8 L955.1,165.2 L955.6,165.1 L956.1,165.3 L956.5,166.5 L956.8,165.5 L957.0,166.2 L957.5,166.0 L957.9,166.3 L958.4,168.1 L958.9,167.7 L958.9,167.8 L959.3,168.0 L959.8,167.7 L960.3,167.5 L960.7,168.1 L961.2,167.9 L961.2,168.2 L961.7,167.6 L962.1,168.1 L962.6,170.3 L962.9,170.8 L963.1,170.3 L963.5,170.1 L964.0,169.6 L964.5,169.6 L964.7,169.8 L964.9,171.3 L965.3,171.9 L965.4,171.5 L965.9,170.5 L966.3,171.7 L966.8,169.2 L967.0,170.3 L967.3,168.8 L967.7,169.2 L968.2,171.1 L968.2,170.6" fill="none" stroke="#7a8583" stroke-width="1.25" stroke-linejoin="round"/>
<rect x="154.5" y="329.5" width="14.3" height="162.5" fill="#ee6c70" fill-opacity="0.5"/>
<rect x="299.5" y="258.5" width="13.5" height="233.5" fill="#ee6c70" fill-opacity="0.5"/>
<rect x="536.5" y="193.5" width="14.5" height="298.5" fill="#ee6c70" fill-opacity="0.5"/>
<rect x="728.7" y="169.5" width="14.0" height="322.5" fill="#ee6c70" fill-opacity="0.5"/>
<rect x="949.5" y="152.0" width="14.3" height="340.0" fill="#ee6c70" fill-opacity="0.5"/>
<circle cx="182.0" cy="485.0" r="20" fill="#f8d966" fill-opacity="0.77"/>
<circle cx="315.0" cy="481.0" r="20" fill="#f8d966" fill-opacity="0.77"/>
<circle cx="554.4" cy="476.0" r="20" fill="#f8d966" fill-opacity="0.77"/>
<circle cx="755.0" cy="452.0" r="20" fill="#f8d966" fill-opacity="0.77"/>
<circle cx="961.0" cy="422.0" r="20" fill="#f8d966" fill-opacity="0.77"/>
<g><ellipse cx="2" cy="556" rx="4" ry="4.5" fill="#dceef2"/><path d="M9.3,529.3 C8.2,542.2 8.4,550.4 6.8,557.2 C2.7,562.6 0.0,568.1 -0.7,573.5 L-0.7,596.6 L40.8,596.6 C42.4,585.7 41.1,574.9 37.0,569.4 C33.3,564.0 29.7,560.6 29.1,556.5 C31.0,553.8 30.7,549.7 28.3,546.6 C26.7,540.9 24.8,534.0 22.9,529.3 Z" fill="#e99c8c" stroke="#b9685e" stroke-width="0.5"/><path d="M6.8,557.4 C10.9,562.6 13.6,564.0 17.0,564.7 L29.3,562.6 C32.7,564.0 35.6,568.1 36.7,572.8 C31.3,576.2 21.8,576.9 16.3,575.5 C15.6,570.8 15.0,567.4 13.6,565.6 C10.9,564.0 8.2,561.3 6.1,558.8 Z" fill="#e3edf2"/><circle cx="27.2" cy="570.1" r="3.4" fill="#f5a623"/><circle cx="27.2" cy="570.1" r="1.9" fill="#fbd27a"/><path d="M9.3,581.9 C19.0,584.4 31.3,583.7 40.3,580.3 L41.2,585.1 L8.2,586.4 Z" fill="#4b9f3d"/><path d="M7.5,585.7 L41.1,584.7 L40.8,596.6 L27.2,596.6 L24.5,593.2 L4.1,596.6 Z" fill="#b3db4f"/><path d="M23.1,593.2 L27.2,596.6 L21.8,596.6 Z" fill="#5a3a2a"/><path d="M2.7,566.7 C6.8,572.1 8.2,580.3 5.4,591.2 L-0.7,593.2 L-0.7,572.1 Z" fill="#e08f80"/><path d="M9.0,528.6 C8.2,522.5 13.6,520.2 17.0,521.1 C20.4,521.8 22.4,525.2 22.4,528.6 L24.2,530.2 C20.4,531.1 13.6,530.2 9.0,528.6 Z" fill="#c23b3c"/><ellipse cx="15.9" cy="542.9" rx="3.2" ry="4.6" fill="#fff"/><ellipse cx="21.5" cy="542.9" rx="3" ry="4.2" fill="#fdfdfd"/><circle cx="17.1" cy="542.9" r="0.9" fill="#222"/><circle cx="22.6" cy="542.9" r="0.9" fill="#222"/><path d="M12.9,534.0 L16.3,533.0 M19.0,533.0 L22.4,534.0" stroke="#5b2a2a" stroke-width="1" fill="none"/></g>
</svg>
<div class="abs hdr">Model<span style="font-size:14px;vertical-align:0.5px;margin:0 3px">：</span>1y-3y Realized Cap Proportion</div>
<div class="dot" style="left:24.8px;top:68.7px;background:#7a7a7a"></div>
<div class="abs lg" style="left:33.5px">BTC: Price [USD]</div>
<div class="dot" style="left:109.5px;top:68.7px;background:#e2e2e2"></div>
<div class="abs lg" style="left:119px;transform:scaleX(0.88)">1y-3y</div>
<div class="yl" style="top:109.0px">$1m</div>
<div class="yl" style="top:160.0px">$100k</div>
<div class="yl" style="top:210.5px">$10k</div>
<div class="yl" style="top:261.0px">$1k</div>
<div class="yl" style="top:311.5px">$100</div>
<div class="yl" style="top:362.0px">$10</div>
<div class="yl" style="top:412.5px">$1</div>
<div class="yl" style="top:463.0px">$0.10</div>
<div class="yr" style="top:484.0px">0</div>
<div class="yr" style="top:456.4px">0.05</div>
<div class="yr" style="top:428.8px">0.1</div>
<div class="yr" style="top:401.2px">0.15</div>
<div class="yr" style="top:373.6px">0.2</div>
<div class="yr" style="top:346.0px">0.25</div>
<div class="yr" style="top:318.4px">0.3</div>
<div class="yr" style="top:290.8px">0.35</div>
<div class="yr" style="top:263.2px">0.4</div>
<div class="yr" style="top:235.6px">0.45</div>
<div class="yr" style="top:208.0px">0.5</div>
<div class="yr" style="top:180.4px">0.55</div>
<div class="yr" style="top:152.8px">0.6</div>
<div class="yr" style="top:125.2px">0.65</div>
<div class="xl" style="left:116.0px">2011</div>
<div class="xl" style="left:174.4px">2012</div>
<div class="xl" style="left:232.8px">2013</div>
<div class="xl" style="left:291.2px">2014</div>
<div class="xl" style="left:349.6px">2015</div>
<div class="xl" style="left:408.0px">2016</div>
<div class="xl" style="left:466.4px">2017</div>
<div class="xl" style="left:524.8px">2018</div>
<div class="xl" style="left:583.2px">2019</div>
<div class="xl" style="left:641.6px">2020</div>
<div class="xl" style="left:700.0px">2021</div>
<div class="xl" style="left:758.4px">2022</div>
<div class="xl" style="left:816.8px">2023</div>
<div class="xl" style="left:875.2px">2024</div>
<div class="xl" style="left:933.6px">2025</div>
<div class="abs title"><span style="font-size:36px;letter-spacing:-1.5px;-webkit-text-stroke:0.8px #0c0c0c">BTC </span><span style="font-size:33.5px;letter-spacing:3px;position:relative;top:-0.5px">的強週期性</span></div>
<div class="uline"></div>
<div class="abs top" style="left:143px;top:305px">Top</div>
<div class="abs top" style="left:288px;top:234px">Top</div>
<div class="abs top" style="left:526px;top:171px">Top</div>
<div class="abs top" style="left:718.5px;top:147px">Top</div>
<div class="abs top" style="left:916.3px;top:117.5px;color:#cc2a22;font-size:22.5px">Top<span style="font-weight:500;font-size:23px;margin-left:1.5px;position:relative;top:0.5px">？</span></div>
<div class="note"></div>
<div class="abs hand" style="left:632px;top:15px">兩大重點：</div>
<div class="abs hand" style="left:635px;top:64px;letter-spacing:0">1.</div>
<div class="abs hand" style="left:658px;top:64px;letter-spacing:3px">見底</div>
<div class="abs hand" style="left:714px;top:64px">=</div>
<div class="abs hand" style="left:734px;top:64px;letter-spacing:3.5px">週期頂部</div>
<div class="ul2" style="left:655px;width:181px"></div>
<div class="abs hand" style="left:889px;top:64px;letter-spacing:1px">2.</div>
<div class="abs hand" style="left:917px;top:64px;letter-spacing:3.5px">底部逐漸抬高</div>
<div class="ul2" style="left:916px;width:156px"></div>
<div class="abs foot">推特：<span style="letter-spacing:1.15px">@market_beggar</span><span style="margin-left:-6px">（</span><span style="margin-left:10px;letter-spacing:-0.3px">貝格先生</span><span style="margin-left:8px">）</span></div>
<div class="abs gn">glassnode</div>
</body></html>
